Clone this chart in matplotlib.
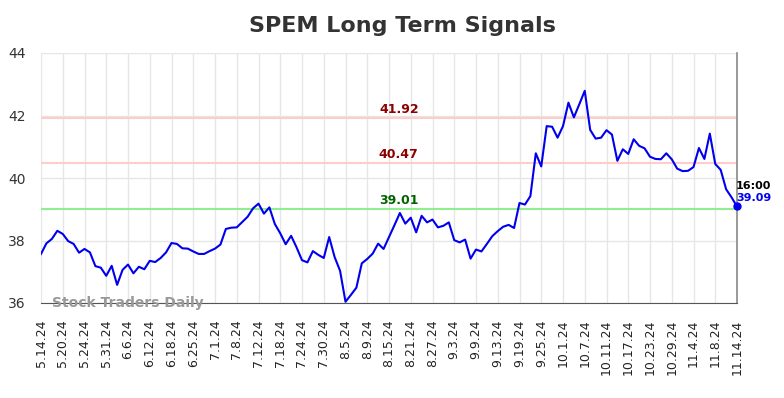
import matplotlib
matplotlib.use("Agg")
import matplotlib.pyplot as plt
import numpy as np

# Daily closing values (one per trading day, 5.14.24 .. 11.14.24)
prices = [
    37.57, 37.91, 38.05, 38.31, 38.21, 37.98, 37.89, 37.61, 37.73, 37.62,
    37.18, 37.13, 36.87, 37.19, 36.58, 37.06, 37.23, 36.95, 37.16, 37.08,
    37.35, 37.31, 37.44, 37.62, 37.92, 37.89, 37.75, 37.74, 37.65, 37.57,
    37.57, 37.66, 37.74, 37.87, 38.37, 38.41, 38.42, 38.59, 38.76, 39.03,
    39.18, 38.86, 39.06, 38.53, 38.23, 37.88, 38.15, 37.78, 37.37, 37.30,
    37.66, 37.54, 37.44, 38.11, 37.47, 37.03, 36.04, 36.26, 36.49, 37.27,
    37.41, 37.58, 37.90, 37.73, 38.11, 38.49, 38.88, 38.54, 38.73, 38.26,
    38.79, 38.58, 38.67, 38.42, 38.47, 38.58, 38.01, 37.94, 38.03, 37.42,
    37.71, 37.65, 37.89, 38.14, 38.30, 38.44, 38.50, 38.40, 39.20, 39.15,
    39.42, 40.79, 40.37, 41.66, 41.64, 41.29, 41.66, 42.41, 41.94, 42.36,
    42.79, 41.54, 41.26, 41.29, 41.53, 41.39, 40.55, 40.92, 40.77, 41.24,
    41.03, 40.95, 40.68, 40.61, 40.60, 40.79, 40.60, 40.30, 40.22, 40.23,
    40.35, 40.96, 40.61, 41.42, 40.45, 40.26, 39.64, 39.38, 39.09,
]

# every 4th trading day gets a label
tick_labels = [
    "5.14.24", "5.20.24", "5.24.24", "5.31.24", "6.6.24", "6.12.24", "6.18.24",
    "6.25.24", "7.1.24", "7.8.24", "7.12.24", "7.18.24", "7.24.24", "7.30.24",
    "8.5.24", "8.9.24", "8.15.24", "8.21.24", "8.27.24", "9.3.24", "9.9.24",
    "9.13.24", "9.19.24", "9.25.24", "10.1.24", "10.7.24", "10.11.24",
    "10.17.24", "10.23.24", "10.29.24", "11.4.24", "11.8.24", "11.14.24",
]

upper_levels = [41.92, 40.47]
lower_level = 39.01
last_time = "16:00"

x = np.arange(len(prices))
ticks = x[::4]

fig = plt.figure(figsize=(7.84, 3.98), dpi=100)
ax = fig.add_axes([41 / 784, 1 - 303 / 398, 696 / 784, 250 / 398])

ax.set_xlim(x[0], x[-1])
ax.set_ylim(36, 44)
ax.set_yticks([36, 38, 40, 42, 44])
ax.set_xticks(ticks)
ax.set_xticklabels(tick_labels, rotation=90, fontsize=9, color="#222222")
ax.tick_params(axis="y", labelsize=10, colors="#333333", length=0, pad=11)
ax.tick_params(axis="x", length=0, pad=12)
ax.grid(True, color="#e6e6e6", linewidth=1)
ax.set_axisbelow(True)

for s in ["top", "left"]:
    ax.spines[s].set_visible(False)
ax.spines["bottom"].set_color("#555555")
ax.spines["right"].set_color("#888888")
ax.spines["right"].set_linewidth(1.2)

mid = (x[0] + x[-1]) / 2 + 1.8
for lv in upper_levels:
    ax.axhline(lv, color="#ffcccc", linewidth=1.5, zorder=1)
    ax.text(mid, lv + 0.06, f"{lv:.2f}", color="#8b0000", fontsize=9,
            fontweight="bold", ha="center", va="bottom")
ax.axhline(lower_level, color="#90ee90", linewidth=1.5, zorder=1)
ax.text(mid, lower_level + 0.06, f"{lower_level:.2f}", color="#006400",
        fontsize=9, fontweight="bold", ha="center", va="bottom")

ax.plot(x, prices, color="#0000ee", linewidth=1.5, zorder=3)
ax.plot(x[-1], prices[-1], "o", color="#0000ee", markersize=5, zorder=4,
        clip_on=False)

ax.text(x[-1] - 0.2, prices[-1] + 0.5, last_time, color="black", fontsize=8,
        fontweight="bold", ha="left", va="bottom")
ax.text(x[-1] - 0.2, prices[-1] + 0.1, f"{prices[-1]:.2f}", color="#0000ee",
        fontsize=8, fontweight="bold", ha="left", va="bottom")

ax.text(2, 36.0, "Stock Traders Daily", color="#999999", fontsize=10,
        fontweight="bold", ha="left", va="center", zorder=5)

fig.text(0.513, 0.935, "SPEM Long Term Signals", fontsize=16,
         fontweight="bold", color="#333333", ha="center", va="center")

fig.savefig("out.png", dpi=100)
